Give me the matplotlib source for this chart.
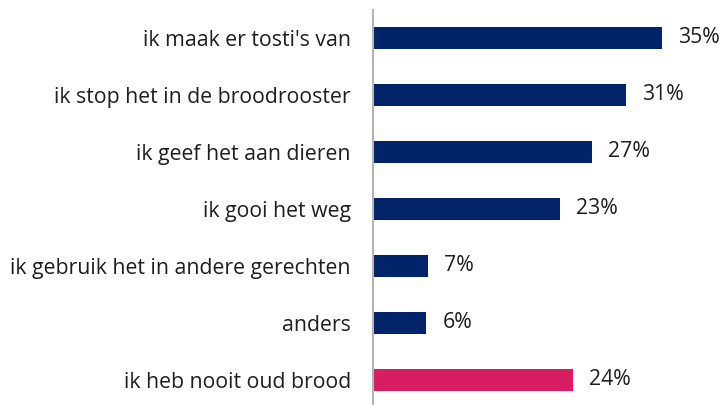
import matplotlib
matplotlib.use('Agg')
import matplotlib.pyplot as plt

categories = [
    "ik maak er tosti's van",
    'ik stop het in de broodrooster',
    'ik geef het aan dieren',
    'ik gooi het weg',
    'ik gebruik het in andere gerechten',
    'anders',
    'ik heb nooit oud brood',
]
# unrounded shares and the rounded labels shown
values = [35.2, 30.9, 26.7, 22.8, 6.7, 6.5, 24.4]
labels = ['35%', '31%', '27%', '23%', '7%', '6%', '24%']
colors = ['#00236a'] * 6 + ['#d81e63']

plt.rcParams['font.family'] = ['Open Sans', 'DejaVu Sans']

fig = plt.figure(figsize=(7.23, 4.05), dpi=100)
ax = fig.add_axes([373 / 723, 0.0, 1 - 373 / 723, 1 - 10 / 405])

y = list(range(len(categories)))
ax.barh(y, values, height=0.4, color=colors)

for yi, v, lab in zip(y, values, labels):
    ax.annotate(lab, (v, yi), xytext=(11.5, 0), textcoords='offset points',
                va='center', ha='left', fontsize=15.3, color='#1e1e1e')

ax.set_xlim(0, (723 - 373) / 8.2)
ax.set_ylim(6.44, -0.49)
ax.set_yticks(y)
ax.set_yticklabels(categories, fontsize=15.3, color='#1e1e1e')
ax.tick_params(axis='y', length=0, pad=16)
ax.set_xticks([])

for side in ('top', 'right', 'bottom'):
    ax.spines[side].set_visible(False)
ax.spines['left'].set_color('#b4b4b4')
ax.spines['left'].set_linewidth(1.5)

fig.savefig('out.png', dpi=100)
